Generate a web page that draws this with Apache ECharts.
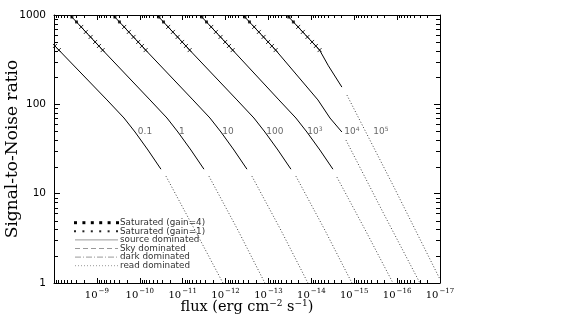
<!DOCTYPE html>
<html><head><meta charset="utf-8">
<script src="https://cdn.jsdelivr.net/npm/echarts@6/dist/echarts.min.js"></script>
<style>html,body{margin:0;padding:0;background:#fff}#c{width:572px;height:326px}</style>
</head><body><div id="c"></div>
<script>
// ---- data ----
const exposureLabels = ['0.1', '1', '10', '100', '10{s|3}', '10{s|4}', '10{s|5}'];
const labelFlux = [7.57e-11, 1.04e-11, 8.79e-13, 7.06e-14, 8.24e-15, 1.13e-15, 2.39e-16];
const labelSnr = [49, 49, 49, 49, 49, 49, 49];

// source dominated (solid) parts [flux, S/N]
const solid_t0p1 = [[1e-8,461],[7.7e-9,405],[5.82e-10,112],[2.33e-10,70.3],[1.29e-10,49.0],[6.44e-11,30.8],[3.21e-11,18.8]];
const solid_t1   = [[4.24e-9,1000],[7.34e-10,405],[5.78e-11,112],[2.32e-11,70.3],[1.29e-11,49.0],[6.41e-12,30.8],[3.19e-12,18.8]];
const solid_t10  = [[4.22e-10,1000],[7.30e-11,405],[5.75e-12,112],[2.31e-12,70.3],[1.28e-12,49.0],[6.37e-13,30.8],[3.17e-13,18.8]];
const solid_t100 = [[3.97e-11,1000],[6.87e-12,405],[5.42e-13,112],[2.18e-13,70.3],[1.21e-13,49.0],[6.01e-14,30.8],[2.99e-14,18.8]];
const solid_t1e3 = [[3.95e-12,1000],[6.83e-13,405],[5.69e-14,112],[2.29e-14,70.3],[1.27e-14,49.0],[6.31e-15,30.8],[3.14e-15,18.8]];
const solid_t1e4 = [[3.93e-13,1000],[6.80e-14,405],[7.02e-15,112],[3.68e-15,70.3],[1.94e-15,49.0]];
const solid_t1e5 = [[3.71e-14,1000],[6.42e-15,405],[4.0e-15,270],[1.94e-15,156]];

// read / dark dominated (dotted) parts
const dotted_t0p1 = [[2.45e-11,15.7],[5.17e-12,3.9],[1.15e-12,1]];
const dotted_t1   = [[2.44e-12,15.7],[5.14e-13,3.9],[1.21e-13,1]];
const dotted_t10  = [[2.43e-13,15.7],[5.12e-14,3.9],[1.20e-14,1]];
const dotted_t100 = [[2.29e-14,15.7],[4.82e-15,3.9],[1.13e-15,1]];
const dotted_t1e3 = [[2.53e-15,15.3],[5.34e-16,3.8],[1.25e-16,1]];
const dotted_t1e4 = [[1.56e-15,39.8],[2.14e-16,6.2],[2.94e-17,1]];
const dotted_t1e5 = [[1.48e-15,127],[1.19e-16,11.9],[1.0e-17,1.1]];

// saturation markers
const satGain4 = [
  [3.83e-9,950],[2.99e-9,836],
  [3.81e-10,950],[2.98e-10,836],
  [3.59e-11,950],[2.80e-11,836],
  [3.57e-12,950],[2.78e-12,836],
  [3.55e-13,950],[2.77e-13,836],
  [3.35e-14,950],[2.62e-14,836]
];
const satGain1 = [
  [9.5e-9,450],[7.7e-9,405],
  [2.32e-9,735],[1.81e-9,646],[1.40e-9,568],[1.10e-9,499],[8.95e-10,450],[7.34e-10,405],
  [2.31e-10,735],[1.80e-10,646],[1.40e-10,568],[1.09e-10,499],[8.90e-11,450],[7.30e-11,405],
  [2.18e-11,735],[1.69e-11,646],[1.31e-11,568],[1.03e-11,499],[8.38e-12,450],[6.87e-12,405],
  [2.16e-12,735],[1.68e-12,646],[1.31e-12,568],[1.02e-12,499],[8.33e-13,450],[6.83e-13,405],
  [2.15e-13,735],[1.67e-13,646],[1.30e-13,568],[1.02e-13,499],[8.29e-14,450],[6.80e-14,405],
  [2.03e-14,735],[1.58e-14,646],[1.23e-14,568],[9.61e-15,499],[7.83e-15,450],[6.42e-15,405]
];

// axes
const xDecades = [1e-17,1e-16,1e-15,1e-14,1e-13,1e-12,1e-11,1e-10,1e-9];
const yDecades = [1,10,100];
const minorMultipliers = [2,3,4,5,6,7,8,9];
const legendNames = ['Saturated (gain=4)','Saturated (gain=1)','source dominated','Sky dominated','dark dominated','read dominated'];

// ---- chart ----
const xMinor = [];
xDecades.forEach(d => minorMultipliers.forEach(m => xMinor.push([m * d, 1])));
const yMinor = [];
yDecades.forEach(d => minorMultipliers.forEach(m => yMinor.push([1e-8, m * d])));

const chart = echarts.init(document.getElementById('c'), null, {renderer: 'canvas'});
const solidCurves = [solid_t0p1, solid_t1, solid_t10, solid_t100, solid_t1e3, solid_t1e4, solid_t1e5];
const dottedCurves = [dotted_t0p1, dotted_t1, dotted_t10, dotted_t100, dotted_t1e3, dotted_t1e4, dotted_t1e5];

const series = [];
solidCurves.forEach(d => series.push({
  type: 'line', data: d, symbol: 'none', smooth: false,
  lineStyle: {color: '#000', width: 1}, silent: true
}));
dottedCurves.forEach(d => series.push({
  type: 'line', data: d, symbol: 'none', smooth: false,
  lineStyle: {color: '#444', width: 1, type: [1, 2]}, silent: true
}));
series.push({type: 'scatter', data: satGain4, symbol: 'rect', symbolSize: 3, itemStyle: {color: '#000'}, silent: true});
series.push({type: 'scatter', data: satGain1, symbol: 'path://M0,0L10,10M0,10L10,0', symbolSize: 4,
  itemStyle: {color: 'rgba(0,0,0,0)', borderColor: '#000', borderWidth: 1}, silent: true});
series.push({
  type: 'scatter', data: labelFlux.map((f, i) => [f, labelSnr[i]]), symbolSize: 0, silent: true,
  label: {show: true, position: 'inside', formatter: p => exposureLabels[p.dataIndex],
    fontFamily: 'DejaVu Sans', fontSize: 9, color: '#444', rich: {s: {fontSize: 6, padding: [0, 0, 5, 0], color: '#444'}}}
});
function tickLine(x1, y1, x2, y2) {
  return {type: 'line', shape: {x1, y1, x2, y2}, style: {stroke: '#000', lineWidth: 1}};
}
series.push({
  type: 'custom', data: xMinor, silent: true, clip: false,
  renderItem: (params, api) => {
    const v = api.value(0);
    const b = api.coord([v, 1]), t = api.coord([v, 1000]);
    const x = Math.round(b[0]) + 0.5;
    return {type: 'group', children: [tickLine(x, b[1], x, b[1] - 3), tickLine(x, t[1], x, t[1] + 3)]};
  }
});
series.push({
  type: 'custom', data: yMinor, silent: true, clip: false,
  renderItem: (params, api) => {
    const v = api.value(1);
    const l = api.coord([1e-8, v]), r = api.coord([1e-17, v]);
    const y = Math.round(l[1]) + 0.5;
    return {type: 'group', children: [tickLine(l[0], y, l[0] + 4, y), tickLine(r[0], y, r[0] - 4, y)]};
  }
});

const xBase = {
  type: 'log', logBase: 10, min: 1e-17, max: 1e-8, inverse: true, interval: 1,
  splitLine: {show: false},
  axisLine: {lineStyle: {color: '#000', width: 1}},
  axisTick: {inside: true, length: 5, lineStyle: {color: '#000'}},
};
const yBase = {
  type: 'log', logBase: 10, min: 1, max: 1000, interval: 1,
  splitLine: {show: false},
  axisLine: {show: true, lineStyle: {color: '#000', width: 1}},
  axisTick: {show: true, inside: true, length: 6, lineStyle: {color: '#000'}},
};
const legendY0 = 222.7, legendDy = 8.6;
const legendChildren = [];
legendNames.forEach((name, i) => {
  const y = legendY0 + i * legendDy;
  if (i < 2) {
    for (let k = 0; k < 6; k++) {
      const s = i === 0 ? 3 : 2;
      legendChildren.push({type: 'rect', shape: {x: 74 + k * 8.4, y: y - s / 2, width: s, height: s}, style: {fill: i === 0 ? '#000' : '#222'}});
    }
  } else {
    const dash = [null, null, null, [5, 3], [6, 2, 1, 2], [1, 2]][i];
    legendChildren.push({type: 'line', shape: {x1: 75, y1: y, x2: 118, y2: y},
      style: {stroke: '#999', lineWidth: 1, lineDash: dash}});
  }
  legendChildren.push({type: 'text', x: 120, y: y, style: {text: name, font: '8.8px "DejaVu Sans"', fill: '#333', verticalAlign: 'middle'}});
});

chart.setOption({
  animation: false,
  backgroundColor: '#fff',
  grid: {left: 54, right: 132, top: 15, bottom: 43, outerBoundsMode: 'none', containLabel: false},
  xAxis: [
    Object.assign({}, xBase, {
      position: 'bottom',
      name: 'flux (erg cm{s|−2} s{s|−1})', nameLocation: 'middle', nameGap: 16, nameMoveOverlap: false,
      nameTextStyle: {fontFamily: 'DejaVu Serif', fontSize: 14.5, color: '#000', rich: {s: {fontFamily: 'DejaVu Serif', fontSize: 9, padding: [0, 0, 8, 0]}}},
      axisLabel: {margin: 5, fontFamily: 'DejaVu Serif', fontSize: 10, color: '#000',
        formatter: v => { const e = Math.round(Math.log10(v)); return e === -8 ? '' : '10{s|' + (e < 0 ? '−' + (-e) : e) + '}'; },
        rich: {s: {fontFamily: 'DejaVu Serif', fontSize: 7, padding: [0, 0, 8, 1]}}}
    }),
    Object.assign({}, xBase, {position: 'top', axisLabel: {show: false}})
  ],
  yAxis: [
    Object.assign({}, yBase, {
      position: 'left',
      name: 'Signal-to-Noise ratio', nameLocation: 'middle', nameGap: 33, nameMoveOverlap: false,
      nameTextStyle: {fontFamily: 'DejaVu Serif', fontSize: 17, color: '#000'},
      axisLabel: {margin: 8, fontFamily: 'DejaVu Sans', fontSize: 10.5, color: '#000', formatter: v => String(Math.round(v))}
    }),
    Object.assign({}, yBase, {position: 'right', axisLabel: {show: false}})
  ],
  series: series,
  graphic: [{type: 'group', children: legendChildren}]
});
</script>
</body></html>
